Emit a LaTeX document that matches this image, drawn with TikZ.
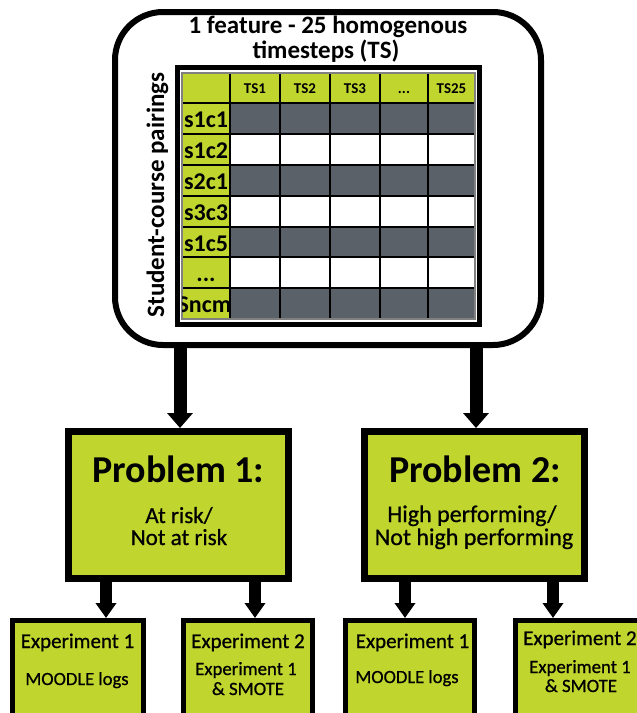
\documentclass[tikz,border=0pt]{standalone}
\usepackage{fontspec}
\setmainfont{Carlito}
\newfontfamily\medfont[FakeBold=0.7]{Carlito}
\usetikzlibrary{arrows.meta,calc}
\definecolor{lime}{RGB}{192,214,46}
\definecolor{slate}{RGB}{90,97,104}
\newcommand\threedots{...}

\begin{document}
\begin{tikzpicture}[x=1pt,y=-1pt,
  bigarrow/.style={line width=13pt,-{Triangle[length=15pt,width=25pt]}},
  smallarrow/.style={line width=12pt,-{Triangle[length=15pt,width=20pt]}},
  probbox/.style={draw,line width=7pt,fill=lime,minimum width=220pt,minimum height=147pt,inner sep=0pt},
  expbox/.style={draw,line width=5pt,fill=lime,minimum height=100pt,inner sep=0pt},
  titlefont/.style={font=\bfseries\fontsize{25}{25}\selectfont},
  headfont/.style={font=\bfseries\fontsize{15}{15}\selectfont},
  rowfont/.style={font=\bfseries\fontsize{24}{24}\selectfont},
  probfont/.style={font=\bfseries\fontsize{38}{38}\selectfont},
  subfont/.style={font=\medfont\fontsize{#1}{#1}\selectfont},
  lbl/.style={anchor=base,inner sep=0pt}
]
\useasboundingbox (0,0) rectangle (637,713);
\clip (0,0) rectangle (637,713);

% outer rounded frame around the data table
\node[draw,line width=6pt,rounded corners=48pt,minimum width=426pt,minimum height=333pt,inner sep=0pt] (frame) at (328,178.5) {};

\node[lbl,titlefont] (title1) at (328,33) {1 feature - 25 homogenous};
\node[lbl,titlefont] (title2) at (326,58) {timesteps (TS)};
\node[lbl,titlefont,rotate=90] (pairs) at (164,195) {Student-course pairings};

% table cells
\fill[lime] (182,73) rectangle (475,103);
\fill[lime] (182,103) rectangle (230,319);
\foreach \ya/\yb in {103/134,165/196,227/257,288/319}
  \fill[slate] (230,\ya) rectangle (475,\yb);
\foreach \ya/\yb in {134/165,196/227,257/288}
  \fill[white] (230,\ya) rectangle (475,\yb);

% grid lines
\foreach \x in {230,280,330,380,428}
  \draw[line width=2pt] (\x,73) -- (\x,319);
\foreach \y in {103,134,165,196,227,257,288}
  \draw[line width=2pt] (182,\y) -- (475,\y);
\draw[gray,line width=1.2pt] (182,73) rectangle (475,319);
\draw[line width=5pt] (177.5,67.5) rectangle (479.5,324.5);

% column headers
\foreach \x/\t [count=\i] in {255/TS1,305/TS2,355/TS3,404/\threedots,451.5/TS25}
  \node[lbl,headfont] (col\i) at (\x,93) {\t};

% row labels
\foreach \y/\t [count=\i] in {127/s1c1,158/s1c2,189/s2c1,220/s3c3,251/s1c5,281/\threedots}
  \node[lbl,rowfont] (row\i) at (206,\y) {\t};
\begin{scope}
  \clip (182,288) rectangle (230,319);
  \node[lbl,rowfont,anchor=base east] (row7) at (231.5,312) {Sncm};
\end{scope}

% problem boxes
\node[probbox] (p1) at (178.5,505) {};
\node[probbox] (p2) at (474.5,505) {};
\node[lbl,probfont] (p1t) at (178.5,482) {Problem 1:};
\node[lbl,subfont=23] (p1a) at (179,523) {At risk/};
\node[lbl,subfont=23] (p1b) at (179,545) {Not at risk};
\node[lbl,probfont] (p2t) at (475,482) {Problem 2:};
\node[lbl,subfont=24] (p2a) at (472,522) {High performing/};
\node[lbl,subfont=24] (p2b) at (474,545) {Not high performing};

% experiment boxes
\node[expbox,minimum width=131pt] (e11) at (78,670.5) {};
\node[expbox,minimum width=129pt] (e12) at (248,670.5) {};
\node[expbox,minimum width=129pt] (e21) at (410,670.5) {};
\node[expbox,minimum width=130pt] (e22) at (580.5,670.5) {};

\node[lbl,subfont=21] (e11a) at (77.5,648) {Experiment 1};
\node[lbl,subfont=18.6] (e11b) at (77,685) {MOODLE logs};
\node[lbl,subfont=21] (e12a) at (248,648) {Experiment 2};
\node[lbl,subfont=18.8] (e12b) at (246,675) {Experiment 1};
\node[lbl,subfont=18.8] (e12c) at (248,695) {\& SMOTE};
\node[lbl,subfont=21] (e21a) at (412.5,648) {Experiment 1};
\node[lbl,subfont=18.6] (e21b) at (407,683) {MOODLE logs};
\node[lbl,subfont=21,anchor=base west] (e22a) at (523,645) {Experiment 2};
\node[lbl,subfont=18.8] (e22b) at (580,673) {Experiment 1};
\node[lbl,subfont=18.8] (e22c) at (581,692) {\& SMOTE};

% connector columns
\coordinate (c1) at (180,0);
\coordinate (c2) at (476,0);
\coordinate (a11) at (106,0);
\coordinate (a12) at (255,0);
\coordinate (a21) at (405,0);
\coordinate (a22) at (553,0);

\draw[bigarrow] (frame.south -| c1) -- (p1.north -| c1);
\draw[bigarrow] (frame.south -| c2) -- (p2.north -| c2);
\draw[smallarrow] (p1.south -| a11) -- (e11.north -| a11);
\draw[smallarrow] (p1.south -| a12) -- (e12.north -| a12);
\draw[smallarrow] (p2.south -| a21) -- (e21.north -| a21);
\draw[smallarrow] (p2.south -| a22) -- (e22.north -| a22);
\end{tikzpicture}
\end{document}
